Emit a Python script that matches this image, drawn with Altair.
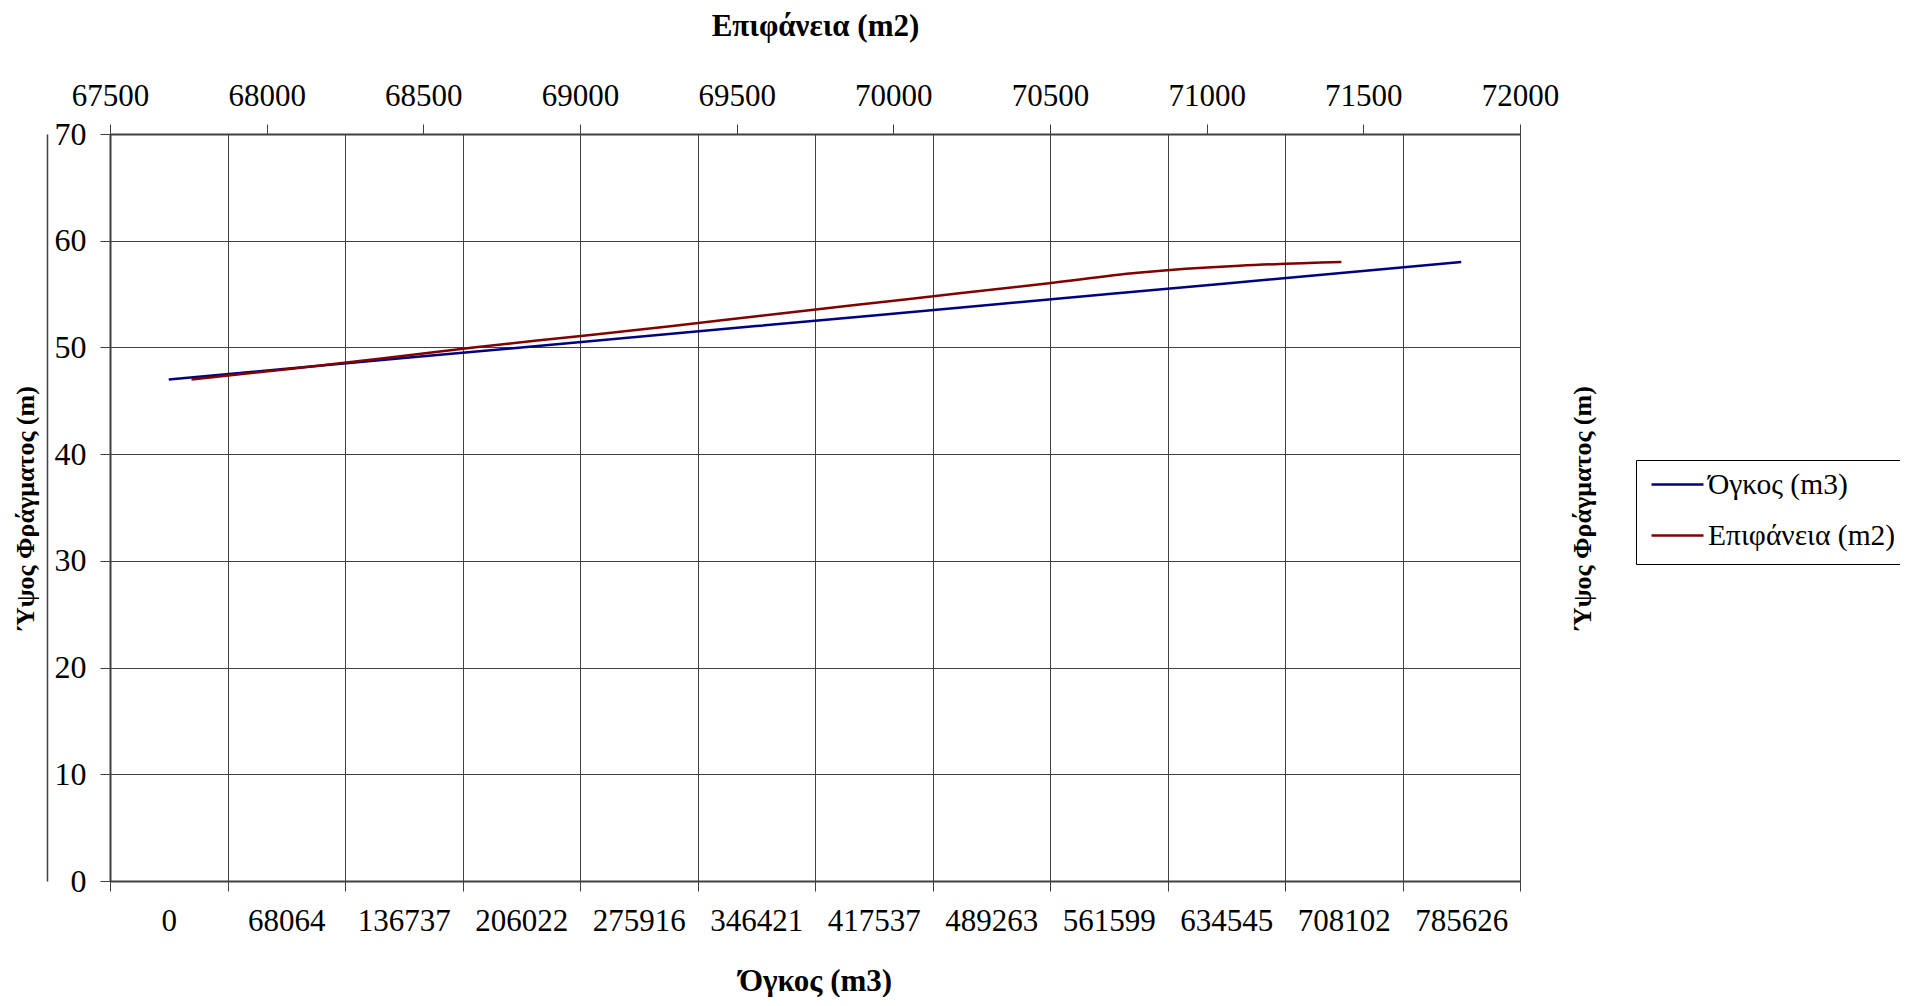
import altair as alt
import pandas as pd

# ---- data ----
heights = [47, 48, 49, 50, 51, 52, 53, 54, 55, 56, 57, 58]
volumes = ["0", "68064", "136737", "206022", "275916", "346421",
           "417537", "489263", "561599", "634545", "708102", "785626"]
areas = [67760, 68080, 68380, 68660, 68980, 69295,
         69585, 69885, 70190, 70490, 70780, 71430]
area_ticks = [67500, 68000, 68500, 69000, 69500, 70000, 70500, 71000, 71500, 72000]
height_ticks = [0, 10, 20, 30, 40, 50, 60, 70]
series = ["Όγκος (m3)", "Επιφάνεια (m2)"]
colors = ["#000080", "#800000"]

vol_df = pd.DataFrame({"vol": volumes, "h": heights, "s": series[0]})
area_df = pd.DataFrame({"area": areas, "h": heights, "s": series[1]})

FONT = "Liberation Serif"
GRID = "#404040"

color = alt.Color(
    "s:N",
    scale=alt.Scale(domain=series, range=colors),
    legend=alt.Legend(
        title=None, orient="none", legendX=1526, legendY=326,
        direction="vertical", strokeColor="black", fillColor="white",
        padding=14, labelFont=FONT, labelFontSize=29.5, labelColor="black",
        symbolType="stroke", symbolSize=2700, symbolStrokeWidth=2.5,
        labelOffset=3, rowPadding=21, clipHeight=21, labelLimit=400,
    ),
)

yscale = alt.Scale(domain=[0, 70], nice=False, zero=True)

blue = alt.Chart(vol_df).mark_line(strokeWidth=2.5).encode(
    x=alt.X(
        "vol:O", sort=volumes, bandPosition=0.5,
        scale=alt.Scale(type="band", paddingInner=0, paddingOuter=0),
        axis=alt.Axis(
            orient="bottom", title="Όγκος (m3)", tickBand="extent", grid=True,
            labelAngle=0, labelOverlap=False, labelFontSize=31, labelPadding=15,
            titleFontSize=31, titleFontWeight="bold", titlePadding=30,
        ),
    ),
    y=alt.Y(
        "h:Q", scale=yscale,
        axis=alt.Axis(
            orient="left", values=height_ticks, title="Ύψος Φράγματος (m)",
            grid=True, labelFontSize=32, labelPadding=14,
            titleFontSize=26, titleFontWeight="bold", titlePadding=16,
        ),
    ),
    color=color,
)

red = alt.Chart(area_df).mark_line(strokeWidth=2.5, interpolate="monotone").encode(
    x=alt.X(
        "area:Q",
        scale=alt.Scale(domain=[67500, 72000], nice=False, zero=False),
        axis=alt.Axis(
            orient="top", values=area_ticks, format="d", title="Επιφάνεια (m2)",
            grid=False, labelFontSize=31, labelPadding=12, labelFlush=False,
            titleFontSize=31, titleFontWeight="bold", titlePadding=38,
        ),
    ),
    y=alt.Y(
        "h:Q", scale=yscale,
        axis=alt.Axis(
            orient="right", title="Ύψος Φράγματος (m)", labels=False, ticks=False,
            domain=False, grid=False, titleAngle=270, titleFontSize=26,
            titleFontWeight="bold", titlePadding=75,
        ),
    ),
    color=color,
)

deco = alt.Chart(vol_df).mark_line(opacity=0).encode(
    y=alt.Y(
        "h:Q", scale=yscale,
        axis=alt.Axis(
            orient="left", offset=63, labels=False, ticks=False, grid=False,
            title=None, domainWidth=1.5,
        ),
    ),
)

chart = (
    alt.layer(blue, red, deco)
    .resolve_scale(x="independent", y="independent")
    .properties(
        width=1410, height=747,
        autosize=alt.AutoSizeParams(type="none"),
        padding={"left": 102, "top": 126, "right": 380, "bottom": 116},
    )
    .configure_axis(
        labelFont=FONT, titleFont=FONT, labelColor="black", titleColor="black",
        gridColor=GRID, gridWidth=1, gridOpacity=1, tickColor=GRID, tickSize=10,
        tickWidth=1, domainColor=GRID, domainWidth=2,
    )
    .configure_view(stroke=GRID, strokeWidth=1)
)

chart.save("out.html", embed_options={"renderer": "svg", "actions": False})
